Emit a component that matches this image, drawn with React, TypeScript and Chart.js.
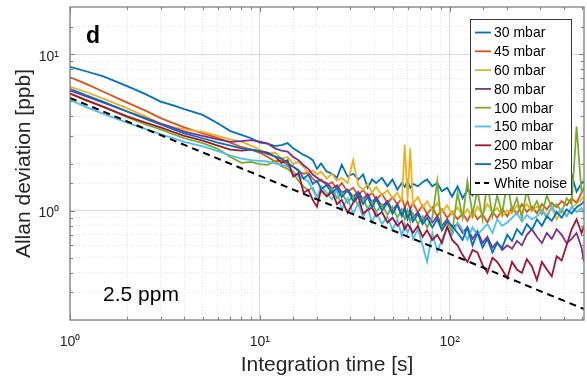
import React, { useEffect, useRef } from 'react';
import { Chart, registerables } from 'chart.js';

Chart.register(...registerables);

// Integration times (s) shared by all pressure series
const tau = [
  1, 1.2, 1.5, 2, 2.5, 3, 3.5, 4, 5, 6, 7, 8, 9, 10,
  11, 12, 13, 14, 15, 16, 17, 18, 19, 20,
  21, 22.5, 24, 25.5, 27, 29, 31, 33, 35, 37,
  39, 41, 44, 47, 50, 53, 56, 58, 60, 62,
  64, 68, 72, 76, 81, 86, 91, 97, 103, 110,
  117, 124, 132, 140, 149, 158, 168, 178, 189, 201,
  213, 226, 240, 255, 271, 288, 306, 325, 345, 366,
  389, 413, 439, 466, 495, 510,
];

// Allan deviation (ppb)
const mbar30 = [
  8.3, 7.8, 7.2, 6.25, 5.55, 4.97, 4.7, 4.45, 4.09, 3.62, 3.22, 3.05, 2.9, 2.72,
  2.68, 2.58, 2.62, 2.7, 2.5, 2.38, 2.27, 2.2, 2.1, 1.85,
  2.0, 1.78, 1.72, 1.62, 1.96, 1.65, 1.72, 1.58, 1.7, 1.4,
  1.58, 1.5, 1.62, 1.43, 1.58, 1.36, 1.5, 1.42, 1.55, 1.4,
  1.48, 1.43, 1.52, 1.58, 1.43, 1.5, 1.33, 1.4, 1.23, 1.43,
  1.2, 1.36, 1.25, 1.42, 1.3, 1.5, 1.28, 1.46, 1.35, 1.55,
  1.3, 1.45, 1.62, 1.32, 1.5, 1.38, 1.6, 1.42, 1.55, 1.35,
  1.5, 1.4, 1.7, 1.32, 1.5, 1.55,
];
const mbar45 = [
  7.1, 6.5, 5.75, 4.9, 4.35, 3.9, 3.62, 3.4, 3.12, 2.92, 2.72, 2.55, 2.45, 2.34,
  2.2, 2.06, 2.1, 1.95, 1.92, 1.78, 1.72, 1.75, 1.6, 1.52,
  1.58, 1.45, 1.52, 1.38, 1.5, 1.32, 1.4, 1.25, 1.36, 1.22,
  1.3, 1.18, 1.28, 1.12, 1.22, 1.1, 1.2, 1.05, 1.15, 1.02,
  1.12, 0.98, 1.08, 0.95, 1.05, 0.92, 1.02, 0.9, 0.98, 0.88,
  0.96, 0.86, 1.0, 0.88, 0.95, 0.84, 0.98, 0.9, 1.02, 0.92,
  1.05, 0.95, 1.1, 0.98, 1.06, 0.96, 1.1, 1.02, 1.12, 1.05,
  1.15, 1.08, 1.2, 1.12, 1.3, 1.38,
];
const mbar60 = [
  6.2, 5.75, 5.2, 4.5, 4.0, 3.6, 3.42, 3.3, 3.18, 3.0, 2.85, 2.76, 2.6, 2.45,
  2.3, 2.35, 2.15, 2.2, 1.98, 2.05, 1.9, 1.75, 1.8, 1.7,
  1.78, 1.6, 1.72, 1.55, 1.62, 1.5, 2.1, 1.45, 1.36, 1.48,
  1.3, 1.42, 1.25, 1.35, 1.2, 1.3, 1.15, 2.63, 1.18, 2.5,
  1.1, 1.22, 1.05, 1.15, 1.0, 1.12, 0.98, 1.08, 0.95, 1.05,
  0.92, 1.02, 0.9, 1.06, 0.95, 1.1, 0.98, 1.04, 0.92, 1.0,
  0.96, 1.08, 0.98, 1.1, 1.0, 1.06, 1.01, 0.94, 1.04, 0.88,
  1.0, 0.92, 1.05, 1.1, 1.18, 1.23,
];
const mbar80 = [
  5.85, 5.4, 4.9, 4.3, 3.9, 3.6, 3.38, 3.2, 3.0, 2.85, 2.75, 2.78, 2.82, 2.76,
  2.68, 2.5, 2.42, 2.38, 2.2, 2.1, 1.95, 1.85, 1.7, 1.62,
  1.55, 1.5, 1.38, 1.45, 1.3, 1.36, 1.22, 1.32, 1.18, 1.28,
  1.12, 1.22, 1.06, 1.15, 1.0, 1.1, 0.95, 1.05, 0.92, 1.02,
  0.9, 0.98, 0.86, 0.95, 0.84, 0.92, 0.8, 0.88, 0.78, 0.82,
  0.72, 0.78, 0.66, 0.74, 0.62, 0.68, 0.58, 0.63, 0.56, 0.6,
  0.57, 0.64, 0.6, 0.7, 0.76, 0.68, 0.62, 0.72, 0.66, 0.76,
  0.7, 0.62, 0.66, 0.72, 0.58, 0.47,
];
const mbar100 = [
  5.6, 5.15, 4.6, 3.95, 3.55, 3.3, 3.08, 2.9, 2.7, 2.48, 2.2, 2.02, 2.05, 1.98,
  1.96, 2.08, 1.92, 1.85, 1.72, 1.55, 1.42, 1.35, 1.4, 1.22,
  1.33, 1.25, 1.38, 1.2, 1.3, 1.12, 1.25, 1.08, 1.2, 1.02,
  1.15, 0.98, 1.1, 0.94, 1.06, 0.9, 1.02, 0.88, 1.0, 0.85,
  0.96, 0.82, 0.92, 0.78, 0.9, 1.54, 0.75, 0.85, 0.72, 1.3,
  0.9, 1.54, 0.95, 1.35, 0.88, 1.5, 0.92, 1.25, 0.95, 1.54,
  1.0, 1.2, 0.9, 1.35, 1.0, 1.15, 0.95, 1.25, 1.05, 1.1,
  0.98, 1.2, 1.1, 3.45, 1.3, 1.42,
];
const mbar150 = [
  5.1, 4.62, 4.15, 3.65, 3.32, 3.08, 2.9, 2.75, 2.57, 2.4, 2.25, 2.15, 2.1, 2.08,
  2.06, 2.0, 1.96, 1.92, 1.78, 1.65, 1.6, 1.54, 1.36, 1.21,
  1.43, 1.3, 1.18, 1.36, 1.01, 1.2, 0.95, 1.12, 0.9, 1.05,
  0.84, 0.98, 0.82, 0.92, 0.75, 0.88, 0.69, 0.82, 0.72, 0.8,
  0.66, 0.76, 0.6, 0.47, 0.72, 0.55, 0.65, 0.78, 0.7, 0.84,
  0.75, 0.65, 0.78, 0.7, 0.76, 0.82, 0.72, 0.88, 0.8, 0.84,
  0.9, 0.97, 0.85, 0.94, 0.88, 0.92, 1.0, 0.9, 1.06, 0.95,
  1.02, 0.92, 1.06, 0.98, 1.04, 0.97,
];
const mbar200 = [
  5.6, 5.1, 4.6, 4.0, 3.65, 3.4, 3.18, 3.0, 2.8, 2.6, 2.45, 2.42, 2.45, 2.4,
  2.35, 2.22, 2.02, 2.1, 1.65, 1.74, 1.3, 1.36, 1.17, 1.06,
  1.36, 1.23, 1.32, 1.1, 1.17, 0.97, 1.12, 1.23, 0.96, 1.01,
  1.05, 0.92, 0.98, 0.84, 0.9, 0.8, 0.86, 0.76, 0.82, 0.78,
  0.72, 0.8, 0.68, 0.75, 0.65, 0.7, 0.62, 0.79, 0.65, 0.6,
  0.52, 0.47, 0.56, 0.54, 0.45, 0.4, 0.5, 0.47, 0.42, 0.37,
  0.47, 0.42, 0.4, 0.49, 0.44, 0.36, 0.47, 0.42, 0.38, 0.51,
  0.48, 0.6, 0.76, 0.88, 0.72, 0.8,
];
const mbar250 = [
  6.0, 5.5, 4.95, 4.3, 3.85, 3.55, 3.3, 3.12, 2.9, 2.72, 2.6, 2.5, 2.45, 2.39,
  2.3, 2.22, 2.15, 2.02, 1.9, 1.82, 1.6, 1.7, 1.48, 1.55,
  1.38, 1.45, 1.3, 1.4, 1.22, 1.35, 1.15, 1.28, 1.1, 1.22,
  1.05, 1.18, 1.0, 1.12, 0.95, 1.08, 0.92, 1.02, 0.88, 0.98,
  0.85, 0.95, 0.82, 0.9, 0.78, 0.88, 0.75, 0.85, 0.8, 0.72,
  0.65, 0.78, 0.6, 0.72, 0.58, 0.66, 0.54, 0.62, 0.58, 0.7,
  0.64, 0.76, 0.7, 0.82, 0.75, 0.88, 0.8, 0.92, 0.86, 0.98,
  0.9, 1.02, 0.96, 1.05, 1.1, 1.15,
];

// White-noise reference line (end points)
const whiteNoiseTau = [1, 510];
const whiteNoiseDev = [5.25, 0.235];

const seriesLabels = ['30 mbar', '45 mbar', '60 mbar', '80 mbar', '100 mbar', '150 mbar', '200 mbar', '250 mbar'];
const seriesColors = ['#0072BD', '#D95319', '#EDB120', '#7E2F8E', '#77AC30', '#4DBEEE', '#A2142F', '#0072BD'];
const seriesValues = [mbar30, mbar45, mbar60, mbar80, mbar100, mbar150, mbar200, mbar250];

const decadeLabels = ['10⁰', '10¹', '10²'];
const yDecadeLabels = ['10⁻¹', '10⁰', '10¹'];

const FONT = '"Liberation Sans", Arial, Helvetica, sans-serif';
const TEXT = '#262626';
const AXIS = '#808080';

const isDecade = (v: number) => {
  const l = Math.log10(v);
  return Math.abs(l - Math.round(l)) < 1e-6;
};

const zeroPadding = (s: any) => {
  s.paddingTop = 0;
  s.paddingBottom = 0;
  s.paddingLeft = 0;
  s.paddingRight = 0;
};

const overlayPlugin = {
  id: 'matlabOverlay',
  afterDatasetsDraw(chart: any) {
    const { ctx, chartArea } = chart;
    const { left, right, top, bottom } = chartArea;
    const xs = chart.scales.x;
    const ys = chart.scales.y;
    ctx.save();
    // axes box
    ctx.strokeStyle = AXIS;
    ctx.lineWidth = 1.3;
    ctx.setLineDash([]);
    ctx.strokeRect(left, top, right - left, bottom - top);
    // inward tick marks
    ctx.lineWidth = 1;
    ctx.beginPath();
    xs.ticks.forEach((t: any) => {
      if (t.value < xs.min || t.value >= xs.max) return;
      const px = Math.round(xs.getPixelForValue(t.value)) + 0.5;
      const L = isDecade(t.value) ? 5 : 3;
      ctx.moveTo(px, bottom);
      ctx.lineTo(px, bottom - L);
      ctx.moveTo(px, top);
      ctx.lineTo(px, top + L);
    });
    ys.ticks.forEach((t: any) => {
      if (t.value <= ys.min || t.value >= ys.max) return;
      const py = Math.round(ys.getPixelForValue(t.value)) + 0.5;
      const L = isDecade(t.value) ? 5 : 3;
      ctx.moveTo(left, py);
      ctx.lineTo(left + L, py);
      ctx.moveTo(right, py);
      ctx.lineTo(right - L, py);
    });
    ctx.stroke();

    // panel letter and annotation
    ctx.fillStyle = '#000';
    ctx.textBaseline = 'alphabetic';
    ctx.textAlign = 'left';
    ctx.font = `bold 23px ${FONT}`;
    ctx.fillText('d', left + 16, top + 36);
    ctx.font = `21px ${FONT}`;
    ctx.fillText('2.5 ppm', left + 33, bottom - 19);

    // legend box
    const w = 101;
    const h = 175;
    const x0 = right - 13 - w;
    const y0 = top + 12;
    ctx.fillStyle = '#ffffff';
    ctx.fillRect(x0, y0, w, h);
    ctx.strokeStyle = '#3a3a3a';
    ctx.lineWidth = 1;
    ctx.strokeRect(x0 + 0.5, y0 + 0.5, w, h);
    ctx.font = `14px ${FONT}`;
    ctx.textBaseline = 'middle';
    chart.data.datasets.forEach((ds: any, i: number) => {
      const cy = y0 + 13.5 + i * 18.8;
      ctx.strokeStyle = ds.borderColor;
      ctx.lineWidth = ds.borderWidth;
      ctx.setLineDash(ds.borderDash ? [5, 4] : []);
      ctx.beginPath();
      ctx.moveTo(x0 + 5, cy);
      ctx.lineTo(x0 + 21, cy);
      ctx.stroke();
      ctx.setLineDash([]);
      ctx.fillStyle = '#000';
      ctx.fillText(ds.label, x0 + 24, cy + 1);
    });
    ctx.restore();
  },
};

export default function App() {
  const canvasRef = useRef<HTMLCanvasElement | null>(null);

  useEffect(() => {
    const canvas = canvasRef.current;
    if (!canvas) return;
    const n = seriesValues.length;
    const datasets: any[] = seriesValues.map((vals, i) => ({
      label: seriesLabels[i],
      data: tau.map((t, j) => ({ x: t, y: vals[j] })),
      borderColor: seriesColors[i],
      backgroundColor: seriesColors[i],
      borderWidth: 1.8,
      pointRadius: 0,
      tension: 0,
      fill: false,
      order: n - i,
    }));
    datasets.push({
      label: 'White noise',
      data: whiteNoiseTau.map((t, j) => ({ x: t, y: whiteNoiseDev[j] })),
      borderColor: '#000000',
      backgroundColor: '#000000',
      borderWidth: 2,
      borderDash: [7, 5],
      pointRadius: 0,
      tension: 0,
      fill: false,
      order: 0,
    });

    const gridColor = (c: any) =>
      c.tick && isDecade(c.tick.value) ? '#d9d9d9' : '#e3e3e3';
    const gridDash = (c: any) => (c.tick && !isDecade(c.tick.value) ? [1, 2] : []);

    const chart = new Chart(canvas, {
      type: 'line',
      data: { datasets },
      plugins: [overlayPlugin],
      options: {
        animation: false,
        responsive: false,
        events: [],
        layout: { autoPadding: false, padding: { left: 0, top: 7, right: 3, bottom: 0 } },
        plugins: {
          legend: { display: false },
          tooltip: { enabled: false },
        },
        scales: {
          x: {
            type: 'logarithmic',
            min: 1,
            max: 510,
            afterFit: (s: any) => {
              s.height = 65;
              zeroPadding(s);
            },
            grid: { color: gridColor, lineWidth: 1, drawTicks: false },
            border: { display: false, dash: gridDash },
            ticks: {
              autoSkip: false,
              maxRotation: 0,
              minRotation: 0,
              padding: 14,
              color: TEXT,
              font: { family: FONT, size: 14 },
              callback: (v: any) => {
                const val = Number(v);
                if (!isDecade(val)) return '';
                const e = Math.round(Math.log10(val));
                return decadeLabels[e] ?? '';
              },
            },
            title: {
              display: true,
              text: 'Integration time [s]',
              color: TEXT,
              font: { family: FONT, size: 21 },
              padding: { top: 0, bottom: 7 },
            },
          },
          y: {
            type: 'logarithmic',
            min: 0.2,
            max: 20,
            afterFit: (s: any) => {
              s.width = 70;
              zeroPadding(s);
            },
            grid: { color: gridColor, lineWidth: 1, drawTicks: false },
            border: { display: false, dash: gridDash },
            ticks: {
              autoSkip: false,
              padding: 11,
              labelOffset: 3,
              color: TEXT,
              font: { family: FONT, size: 14 },
              callback: (v: any) => {
                const val = Number(v);
                if (!isDecade(val)) return '';
                const e = Math.round(Math.log10(val));
                return yDecadeLabels[e + 1] ?? '';
              },
            },
            title: {
              display: true,
              text: 'Allan deviation [ppb]',
              color: TEXT,
              font: { family: FONT, size: 21 },
              padding: { top: 12, bottom: 0 },
            },
          },
        },
      } as any,
    });
    return () => chart.destroy();
  }, []);

  return (
    <div style={{ position: 'absolute', left: 0, top: 0, width: 587, height: 385, background: '#fff' }}>
      <canvas ref={canvasRef} width={587} height={385} style={{ width: 587, height: 385, display: 'block' }} />
    </div>
  );
}
